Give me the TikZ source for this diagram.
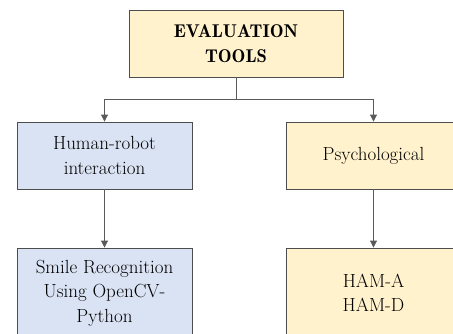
\documentclass[tikz,border=0pt]{standalone}
\usetikzlibrary{arrows.meta}
\definecolor{boxyellow}{HTML}{FFF2CC}
\definecolor{boxblue}{HTML}{DAE3F3}
\definecolor{edgegray}{HTML}{4D4D4D}
\definecolor{linegray}{HTML}{5A5A5A}
\tikzset{
  boxbase/.style={draw=edgegray, line width=0.9pt, align=center, inner sep=2pt,
    font=\fontsize{19}{24.5}\selectfont, text=black},
  ybox/.style={boxbase, fill=boxyellow},
  bbox/.style={boxbase, fill=boxblue},
  conn/.style={draw=linegray, line width=0.9pt},
  arr/.style={conn, -{Triangle[length=7pt,width=7pt]}}
}
\begin{document}
\begin{tikzpicture}[x=1pt,y=-1pt]
\useasboundingbox (0,0) rectangle (453,333);
\clip (0,0) rectangle (453,333);
\node[ybox, minimum width=214pt, minimum height=67pt, font=\fontsize{18.5}{25}\fontseries{b}\selectfont] (top) at (236,43.5) {EVALUATION\\TOOLS};
\node[bbox, minimum width=175pt, minimum height=67pt] (hri) at (104.5,155.5) {Human-robot\\interaction};
\node[ybox, minimum width=175pt, minimum height=67pt] (psy) at (373.5,155.5) {Psychological};
\node[bbox, minimum width=175pt, minimum height=90pt] (smile) at (104.5,293) {Smile Recognition\\Using OpenCV-\\Python};
\node[ybox, minimum width=175pt, minimum height=90pt] (ham) at (373.5,293) {HAM-A\\HAM-D};
\coordinate (split) at (236,99);
\draw[conn] (top.south) -- (split);
\draw[arr] (split) -| (hri.north);
\draw[arr] (split) -| (psy.north);
\draw[arr] (hri.south) -- (smile.north);
\draw[arr] (psy.south) -- (ham.north);
\end{tikzpicture}
\end{document}
